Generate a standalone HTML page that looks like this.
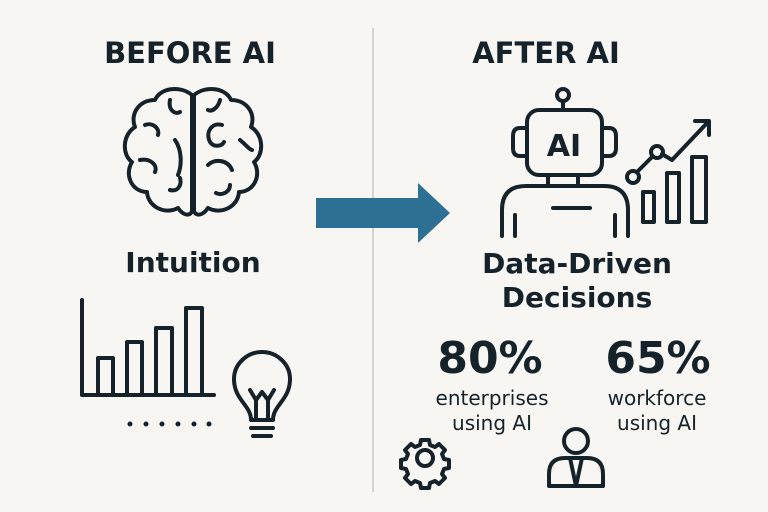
<!DOCTYPE html>
<html><head><meta charset="utf-8"><style>
body{margin:0;background:#f8f6f2;}
svg{display:block}
text{font-family:"DejaVu Sans","Liberation Sans",sans-serif;fill:#16222a}
</style></head><body>
<svg width="768" height="512" viewBox="0 0 768 512">
<rect width="768" height="512" fill="#f8f6f2"/>
<line x1="373" y1="28" x2="373" y2="492" stroke="#d5d3cf" stroke-width="2"/>
<text x="190" y="63" font-size="29" font-weight="bold" text-anchor="middle">BEFORE AI</text>
<text x="546" y="63" font-size="29" font-weight="bold" text-anchor="middle">AFTER AI</text>
<g fill="none" stroke="#16222a" stroke-width="4" stroke-linecap="round" stroke-linejoin="round">
<path d="M192 95 C180 85 160 88 155 100 C138 100 130 115 135 127 C122 135 122 155 132 162 C124 175 132 192 147 192 C148 207 165 215 178 208 C185 218 192 215 192 210 Z"/>
<path d="M194 95 C206 85 226 88 231 100 C248 100 256 115 251 127 C264 135 264 155 254 162 C262 175 254 192 239 192 C238 207 221 215 208 208 C201 218 194 215 194 210 Z"/>
<path d="M170 100 C168 110 175 115 180 112 M145 125 C152 122 160 128 158 135 M175 140 C182 150 182 165 178 175 M140 160 C150 158 158 165 155 172 M170 190 C178 192 182 185 180 178"/>
<path d="M220 100 C218 108 212 112 208 110 M222 125 C212 122 205 132 210 142 C214 148 222 146 224 142 M240 140 C246 145 250 150 252 150 M208 165 C215 158 228 160 232 170 M230 185 C230 192 222 196 216 193"/>
<path d="M82 300 V395 H214"/>
<rect x="98" y="358" width="15" height="37"/><rect x="127" y="342" width="15" height="53"/><rect x="156" y="328" width="16" height="67"/><rect x="186" y="308" width="16" height="87"/>
<path d="M251 420 C251 405 234 400 234 379 C234 364 247 352 262 352 C277 352 290 364 290 379 C290 400 273 405 273 420 Z"/>
<path d="M251 428 H273 M253 436 H271 M256 420 V400 L250 390 M268 420 V400 L274 390 M256 400 L262 392 L268 400"/>
<circle cx="563" cy="95" r="6"/><line x1="563" y1="101" x2="563" y2="110"/>
<rect x="527" y="110" width="75" height="65" rx="12"/>
<path d="M527 128 H520 Q513 128 513 136 V148 Q513 156 520 156 H527 M602 128 H609 Q616 128 616 136 V148 Q616 156 609 156 H602"/>
<path d="M548 175 V185 M578 175 V185"/>
<path d="M502 236 V210 Q502 186 526 186 H604 Q628 186 628 210 V236 M515 236 V215 M615 236 V215"/>
<line x1="553" y1="208" x2="590" y2="208"/>
<circle cx="633" cy="177" r="6"/><circle cx="657" cy="152" r="6"/>
<path d="M637 172 L652 157 M662 154 L672 160 L708 122 M695 121 H709 V135"/>
<rect x="643" y="192" width="11" height="30"/><rect x="667" y="173" width="12" height="49"/><rect x="692" y="157" width="14" height="65"/>
<circle cx="425" cy="458" r="8"/>
<path d="M421 440 h8 l1 5 l5 2 l4-3 l6 6 l-3 4 l2 5 l5 1 v8 l-5 1 l-2 5 l3 4 l-6 6 l-4-3 l-5 2 l-1 5 h-8 l-1-5 l-5-2 l-4 3 l-6-6 l3-4 l-2-5 l-5-1 v-8 l5-1 l2-5 l-3-4 l6-6 l4 3 l5-2 Z"/>
<circle cx="576" cy="441" r="12"/>
<path d="M549 486 V474 Q549 458 565 458 H587 Q603 458 603 474 V486 Z M570 458 L576 486 L582 458"/>
</g>
<g fill="#16222a">
<circle cx="130" cy="424" r="2.5"/><circle cx="146" cy="424" r="2.5"/><circle cx="162" cy="424" r="2.5"/><circle cx="178" cy="424" r="2.5"/><circle cx="194" cy="424" r="2.5"/><circle cx="209" cy="424" r="2.5"/>
</g>
<text x="564" y="156" font-size="30" font-weight="bold" text-anchor="middle">AI</text>
<path d="M316 198 H418 V183 L450 213 L418 243 V228 H316 Z" fill="#2e6f94"/>
<text x="193" y="272" font-size="28" font-weight="bold" text-anchor="middle">Intuition</text>
<text x="577" y="273" font-size="28" font-weight="bold" text-anchor="middle">Data-Driven</text>
<text x="577" y="307" font-size="28" font-weight="bold" text-anchor="middle">Decisions</text>
<text x="490" y="373" font-size="44" font-weight="bold" text-anchor="middle">80%</text>
<text x="658" y="373" font-size="44" font-weight="bold" text-anchor="middle">65%</text>
<text x="492" y="405" font-size="20" text-anchor="middle">enterprises</text>
<text x="492" y="430" font-size="20" text-anchor="middle">using AI</text>
<text x="657" y="405" font-size="20" text-anchor="middle">workforce</text>
<text x="657" y="430" font-size="20" text-anchor="middle">using AI</text>
</svg>
</body></html>
